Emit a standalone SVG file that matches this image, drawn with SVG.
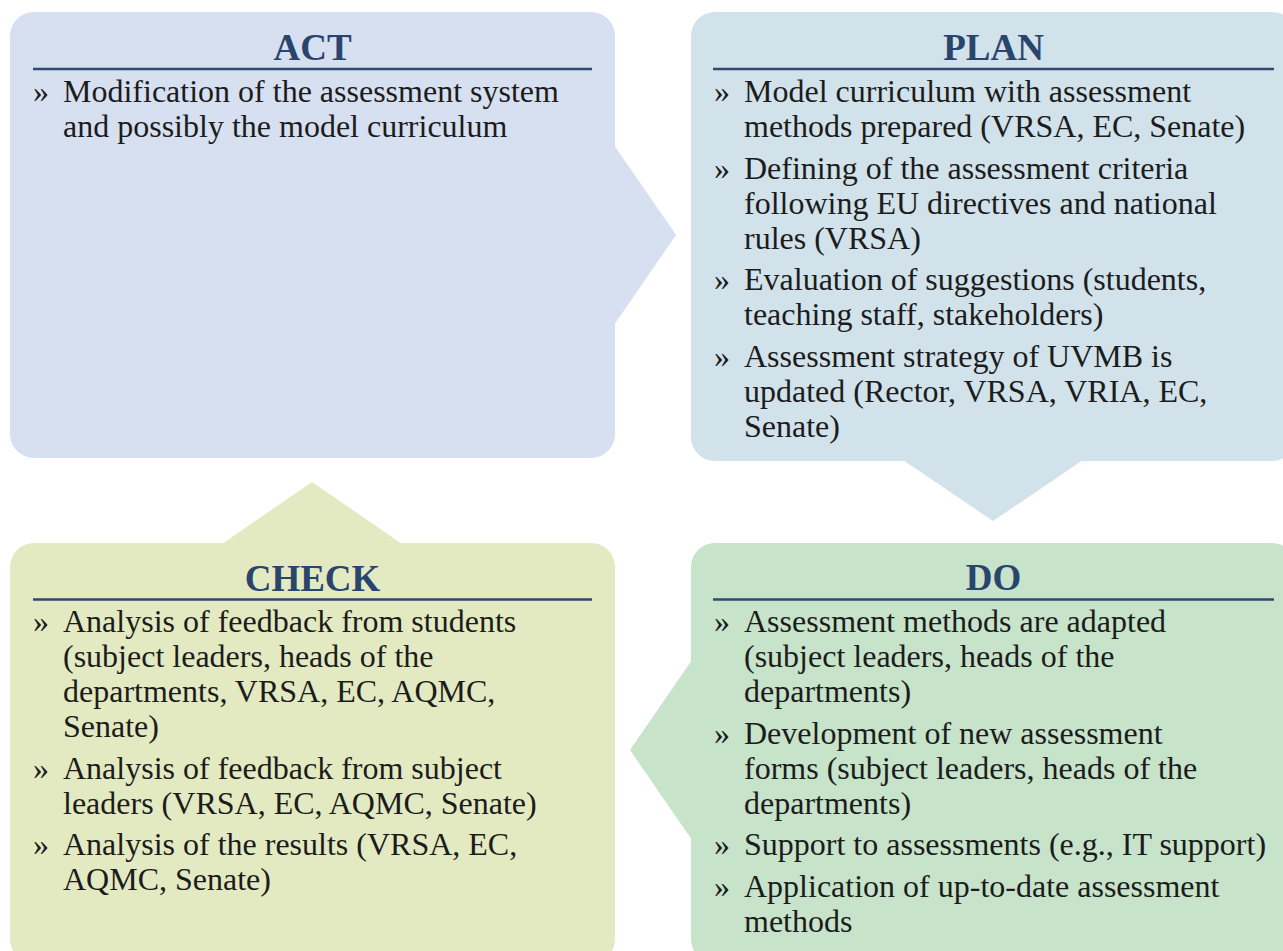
<svg xmlns="http://www.w3.org/2000/svg" width="1283" height="951" viewBox="0 0 1283 951">
  <style>
    .title { font-family: "Liberation Serif", "Times New Roman", serif; font-weight: bold; font-size: 37px; fill: #29456e; text-anchor: middle; }
    .rule { stroke: #2f4a6e; stroke-width: 2.5; }
    .txt { font-family: "Liberation Serif", "Times New Roman", serif; font-size: 32px; fill: #1c1c1c; }
    .act { fill: #d6e0f1; }
    .plan { fill: #d1e2ea; }
    .check { fill: #e3eac1; }
    .do { fill: #c7e3c9; }
  </style>
  <rect width="1283" height="951" fill="#ffffff"/>

  <g id="connectors">
    <polygon class="act" points="614,145 676,235 614,325"/>
    <polygon class="plan" points="903,460 1083,460 993,521"/>
    <polygon class="do" points="692,660 630,750 692,840"/>
    <polygon class="check" points="222,544 312,482 402,544"/>
  </g>

  <g id="act">
    <rect class="act" x="10" y="12" width="605" height="446" rx="24" ry="24"/>
    <text class="title" x="312.5" y="60">ACT</text>
    <line class="rule" x1="33" y1="69" x2="592" y2="69"/>
    <text class="txt" x="33" y="102">»</text>
    <text class="txt" x="63" y="102">Modification of the assessment system</text>
    <text class="txt" x="63" y="137">and possibly the model curriculum</text>
  </g>

  <g id="plan">
    <rect class="plan" x="691" y="12" width="605" height="449" rx="24" ry="24"/>
    <text class="title" x="993.5" y="60">PLAN</text>
    <line class="rule" x1="713" y1="69" x2="1274" y2="69"/>
    <text class="txt" x="714" y="102">»</text>
    <text class="txt" x="744" y="102">Model curriculum with assessment</text>
    <text class="txt" x="744" y="137">methods prepared (VRSA, EC, Senate)</text>
    <text class="txt" x="714" y="178.5">»</text>
    <text class="txt" x="744" y="178.5">Defining of the assessment criteria</text>
    <text class="txt" x="744" y="213.5">following EU directives and national</text>
    <text class="txt" x="744" y="248.5">rules (VRSA)</text>
    <text class="txt" x="714" y="290">»</text>
    <text class="txt" x="744" y="290">Evaluation of suggestions (students,</text>
    <text class="txt" x="744" y="325">teaching staff, stakeholders)</text>
    <text class="txt" x="714" y="366.5">»</text>
    <text class="txt" x="744" y="366.5">Assessment strategy of UVMB is</text>
    <text class="txt" x="744" y="401.5">updated (Rector, VRSA, VRIA, EC,</text>
    <text class="txt" x="744" y="436.5">Senate)</text>
  </g>

  <g id="check">
    <rect class="check" x="10" y="543" width="605" height="420" rx="24" ry="24"/>
    <text class="title" x="312.5" y="591">CHECK</text>
    <line class="rule" x1="33" y1="599.5" x2="592" y2="599.5"/>
    <text class="txt" x="33" y="632">»</text>
    <text class="txt" x="63" y="632">Analysis of feedback from students</text>
    <text class="txt" x="63" y="667">(subject leaders, heads of the</text>
    <text class="txt" x="63" y="702">departments, VRSA, EC, AQMC,</text>
    <text class="txt" x="63" y="737">Senate)</text>
    <text class="txt" x="33" y="778.5">»</text>
    <text class="txt" x="63" y="778.5">Analysis of feedback from subject</text>
    <text class="txt" x="63" y="813.5">leaders (VRSA, EC, AQMC, Senate)</text>
    <text class="txt" x="33" y="855">»</text>
    <text class="txt" x="63" y="855">Analysis of the results (VRSA, EC,</text>
    <text class="txt" x="63" y="890">AQMC, Senate)</text>
  </g>

  <g id="do">
    <rect class="do" x="691" y="543" width="605" height="420" rx="24" ry="24"/>
    <text class="title" x="993.5" y="590">DO</text>
    <line class="rule" x1="713" y1="599.5" x2="1274" y2="599.5"/>
    <text class="txt" x="714" y="632">»</text>
    <text class="txt" x="744" y="632">Assessment methods are adapted</text>
    <text class="txt" x="744" y="667">(subject leaders, heads of the</text>
    <text class="txt" x="744" y="702">departments)</text>
    <text class="txt" x="714" y="744">»</text>
    <text class="txt" x="744" y="744">Development of new assessment</text>
    <text class="txt" x="744" y="779">forms (subject leaders, heads of the</text>
    <text class="txt" x="744" y="814">departments)</text>
    <text class="txt" x="714" y="855">»</text>
    <text class="txt" x="744" y="855">Support to assessments (e.g., IT support)</text>
    <text class="txt" x="714" y="897">»</text>
    <text class="txt" x="744" y="897">Application of up-to-date assessment</text>
    <text class="txt" x="744" y="932">methods</text>
  </g>
</svg>
